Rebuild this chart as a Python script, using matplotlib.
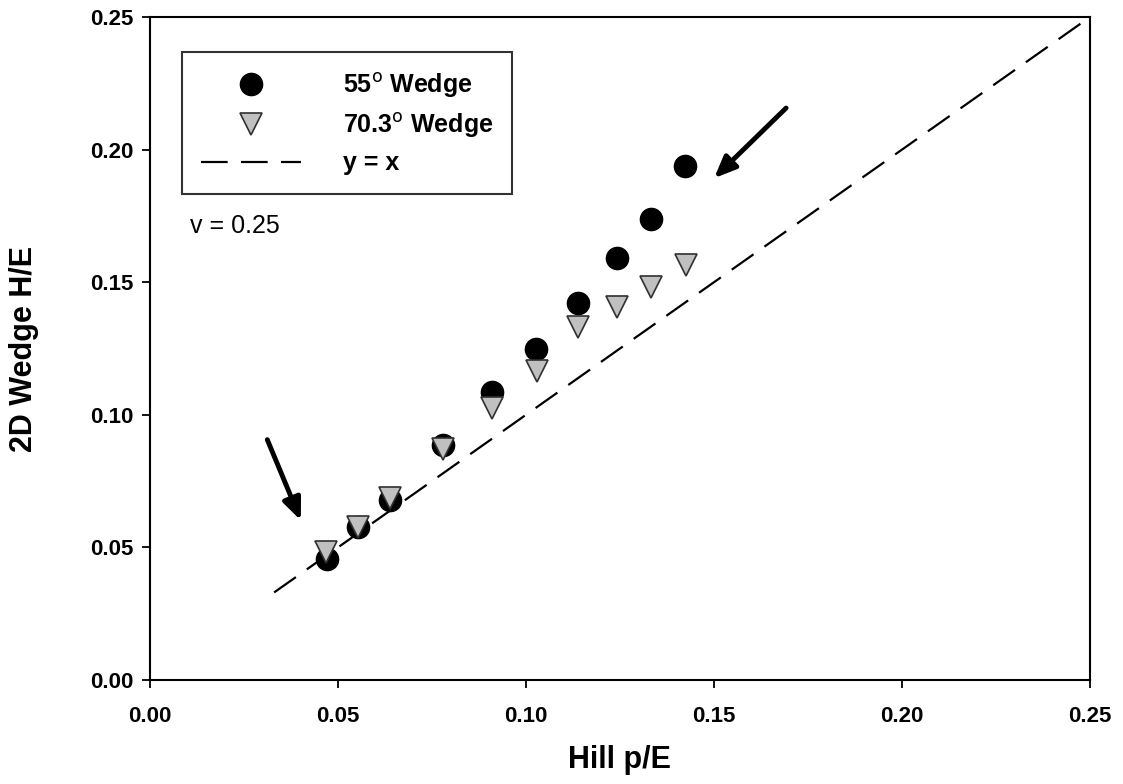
import numpy as np
import matplotlib.pyplot as plt

plt.rcParams['font.family'] = ['Liberation Sans', 'DejaVu Sans']

# 55 deg wedge (circles)
hill_55 = [0.0471, 0.0553, 0.0638, 0.0779, 0.0910, 0.1027, 0.1138, 0.1242, 0.1332, 0.1423]
wedge_55 = [0.0456, 0.0577, 0.0680, 0.0886, 0.1086, 0.1248, 0.1422, 0.1591, 0.1738, 0.1938]

# 70.3 deg wedge (triangles)
hill_70 = [0.0468, 0.0553, 0.0638, 0.0779, 0.0910, 0.1029, 0.1138, 0.1242, 0.1332, 0.1426]
wedge_70 = [0.0483, 0.0577, 0.0686, 0.0871, 0.1026, 0.1165, 0.1331, 0.1406, 0.1482, 0.1565]

line_x = [0.033, 0.25]

arrows = [((0.1697, 0.2164), (0.1495, 0.1885)),
          ((0.0309, 0.0916), (0.0404, 0.0592))]

fig = plt.figure(figsize=(11.23, 7.84), dpi=100)
ax = fig.add_axes([0.1336, 0.1327, 0.837, 0.8456])

ax.plot(hill_55, wedge_55, 'o', color='black', markersize=16, label='55$^{\\mathrm{o}}$ Wedge', zorder=3)
ax.plot(hill_70, wedge_70, 'v', color='#c0c0c0', markeredgecolor='#303030', markeredgewidth=1.2,
        markersize=16, label='70.3$^{\\mathrm{o}}$ Wedge', zorder=4)
ax.plot(line_x, line_x, color='black', linewidth=1.6, dashes=(12, 6), label='y = x', zorder=2)

for start, end in arrows:
    ax.annotate('', xy=end, xytext=start,
                arrowprops=dict(arrowstyle='-|>,head_length=1.3,head_width=0.55', color='black', lw=3.5))

ax.set_xlim(0, 0.25)
ax.set_ylim(0, 0.25)
ticks = np.arange(0, 0.26, 0.05)
ax.set_xticks(ticks)
ax.set_yticks(ticks)
ax.set_xticklabels(['%.2f' % t for t in ticks])
ax.set_yticklabels(['%.2f' % t for t in ticks])
ax.tick_params(direction='out', length=6, width=1.3, labelsize=16, pad=13)
for lab in ax.get_xticklabels() + ax.get_yticklabels():
    lab.set_fontweight('bold')
ax.tick_params(axis='y', pad=6)
for s in ax.spines.values():
    s.set_linewidth(1.5)

fig.text(620 / 1123, 1 - 760 / 784, 'Hill p/E', fontsize=22, fontweight='bold',
         ha='center', va='center')
fig.text(24 / 1123, 1 - 349 / 784, '2D Wedge H/E', fontsize=22, fontweight='bold',
         ha='center', va='center', rotation=90)

leg = ax.legend(loc='upper left', bbox_to_anchor=(0.034, 0.947),
                prop={'weight': 'bold', 'size': 18}, frameon=True, fancybox=False,
                edgecolor='black', borderpad=0.75, handlelength=4.0, handletextpad=1.7,
                labelspacing=0.45, borderaxespad=0)
leg.get_frame().set_linewidth(1.5)

ax.text(0.042, 0.685, 'v = 0.25', transform=ax.transAxes, fontsize=18, va='center')

fig.savefig('out.png', dpi=100)
